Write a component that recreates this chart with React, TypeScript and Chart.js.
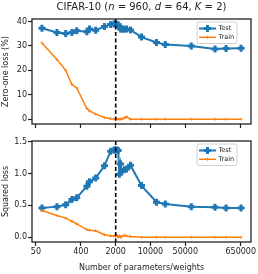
import React, { useEffect, useRef } from "react";
import { Chart, registerables } from "chart.js";

Chart.register(...registerables);

// ---- data ----
const params = [66, 132, 198, 264, 330, 528, 594, 792, 1188, 1584, 1848, 1980, 2112, 2244, 2376, 2508, 2640, 2970, 3300, 3960, 6600, 13200, 19800, 66000, 198000, 330000, 660000];
const zeroOneTest = [37.2, 35.5, 35.1, 35.5, 36.2, 35.8, 36.9, 36.4, 37.9, 38.8, 39.0, 39.0, 38.8, 38.6, 37.9, 36.9, 36.9, 36.8, 36.9, 36.5, 33.6, 31.4, 30.6, 30.0, 28.7, 28.9, 29.0];
const zeroOneTrain = [31.2, 24.4, 20.0, 14.2, 12.8, 4.4, 3.4, 2.1, 0.7, 0.2, 0.05, 0, 0, 0.1, 0, 0.1, 0, 0.5, 1.0, 0, 0, 0, 0, 0, 0, 0, 0];
const squaredTest = [0.46, 0.48, 0.51, 0.59, 0.62, 0.8, 0.87, 0.93, 1.12, 1.35, 1.37, 1.37, 1.37, 1.36, 0.99, 1.15, 1.03, 1.06, 1.07, 1.13, 0.81, 0.55, 0.52, 0.48, 0.47, 0.46, 0.46];
const squaredTrain = [0.42, 0.34, 0.3, 0.25, 0.21, 0.12, 0.11, 0.1, 0.04, 0.02, 0.02, 0.02, 0.03, 0.0, 0.02, 0.0, 0.01, 0.03, 0.02, 0.01, 0.0, 0, 0, 0, 0, 0, 0];
const xTickValues = [50, 400, 2000, 10000, 50000, 650000];
const zeroOneTicks = [0, 10, 20, 30, 40];
const squaredTicks = [0, 0.5, 1.0, 1.5];
const threshold = 2000;
const seriesLabels = ["Test", "Train"];

const BLUE = "#1f77b4";
const ORANGE = "#ff7f0e";
const INK = "#222222";
const FONT = "'DejaVu Sans', sans-serif";
const X_MIN = 66 / Math.pow(10, 0.2);
const X_MAX = 660000 * Math.pow(10, 0.2);

function drawPlus(ctx: CanvasRenderingContext2D, x: number, y: number, r: number, lw: number, color: string) {
  ctx.save();
  ctx.strokeStyle = color;
  ctx.lineWidth = lw;
  ctx.beginPath();
  ctx.moveTo(x - r, y);
  ctx.lineTo(x + r, y);
  ctx.moveTo(x, y - r);
  ctx.lineTo(x, y + r);
  ctx.stroke();
  ctx.restore();
}

const framePlugin = {
  id: "frame",
  afterDatasetsDraw(chart: any) {
    const { ctx, chartArea: a, scales } = chart;
    const xp = scales.x.getPixelForValue(threshold);
    ctx.save();
    ctx.strokeStyle = "#000";
    ctx.lineWidth = 1.6;
    ctx.setLineDash([4, 2.5]);
    ctx.beginPath();
    ctx.moveTo(xp, a.top);
    ctx.lineTo(xp, a.bottom);
    ctx.stroke();
    ctx.restore();
    ctx.save();
    ctx.strokeStyle = INK;
    ctx.lineWidth = 1.3;
    ctx.strokeRect(a.left, a.top, a.right - a.left, a.bottom - a.top);
    ctx.restore();
  },
};

const legendPlugin = {
  id: "insideLegend",
  afterDraw(chart: any) {
    const { ctx, chartArea: a } = chart;
    const w = 40;
    const h = 21.5;
    const left = a.right - 14 - w;
    const top = a.top + 3;
    ctx.save();
    ctx.beginPath();
    if ((ctx as any).roundRect) (ctx as any).roundRect(left, top, w, h, 2);
    else ctx.rect(left, top, w, h);
    ctx.fillStyle = "rgba(255,255,255,0.85)";
    ctx.fill();
    ctx.strokeStyle = "#d0d0d0";
    ctx.lineWidth = 1;
    ctx.stroke();
    const colors = [BLUE, ORANGE];
    const rows = [top + 6.5, top + 15.3];
    ctx.font = `6.5px ${FONT}`;
    ctx.textBaseline = "middle";
    ctx.textAlign = "left";
    seriesLabels.forEach((lab, i) => {
      const y = rows[i];
      ctx.strokeStyle = colors[i];
      ctx.lineWidth = i === 0 ? 2 : 1.5;
      ctx.beginPath();
      ctx.moveTo(left + 2, y);
      ctx.lineTo(left + 19, y);
      ctx.stroke();
      if (i === 0) drawPlus(ctx, left + 10.5, y, 3.5, 3, colors[i]);
      else drawPlus(ctx, left + 10.5, y, 1.5, 0.8, colors[i]);
      ctx.fillStyle = INK;
      ctx.fillText(lab, left + 21.5, y + 0.3);
    });
    ctx.restore();
  },
};

const titlePlugin = {
  id: "mixedTitle",
  afterDraw(chart: any) {
    const { ctx, chartArea: a } = chart;
    const segs: [string, boolean][] = [
      ["CIFAR-10 (", false],
      ["n", true],
      [" = 960, ", false],
      ["d", true],
      [" = 64, ", false],
      ["K", true],
      [" = 2)", false],
    ];
    const size = 10;
    ctx.save();
    ctx.textBaseline = "middle";
    ctx.textAlign = "left";
    ctx.fillStyle = INK;
    let total = 0;
    const widths = segs.map(([t, it]) => {
      ctx.font = `${it ? "italic " : ""}${size}px ${FONT}`;
      const wd = ctx.measureText(t).width;
      total += wd;
      return wd;
    });
    let x = (a.left + a.right) / 2 - total / 2;
    segs.forEach(([t, it], i) => {
      ctx.font = `${it ? "italic " : ""}${size}px ${FONT}`;
      ctx.fillText(t, x, 7);
      x += widths[i];
    });
    ctx.restore();
  },
};

function buildConfig(isTop: boolean): any {
  const test = isTop ? zeroOneTest : squaredTest;
  const train = isTop ? zeroOneTrain : squaredTrain;
  const yTicks = isTop ? zeroOneTicks : squaredTicks;
  return {
    type: "line",
    data: {
      datasets: [
        {
          label: seriesLabels[0],
          data: params.map((p, i) => ({ x: p, y: test[i] })),
          borderColor: BLUE,
          backgroundColor: BLUE,
          borderWidth: 2,
          pointStyle: "cross",
          pointRadius: 3.5,
          pointBorderWidth: 3,
          tension: 0,
          order: 2,
        },
        {
          label: seriesLabels[1],
          data: params.map((p, i) => ({ x: p, y: train[i] })),
          borderColor: ORANGE,
          backgroundColor: ORANGE,
          borderWidth: 1.5,
          pointStyle: "cross",
          pointRadius: 1.5,
          pointBorderWidth: 0.8,
          tension: 0,
          order: 1,
        },
      ],
    },
    options: {
      responsive: false,
      animation: false,
      devicePixelRatio: 1,
      layout: { padding: { left: 0, right: 7, top: isTop ? 19 : 5.5, bottom: isTop ? 0 : 1 } },
      plugins: { legend: { display: false }, tooltip: { enabled: false }, title: { display: false } },
      scales: {
        x: {
          type: "logarithmic",
          min: X_MIN,
          max: X_MAX,
          afterBuildTicks: (s: any) => {
            s.ticks = xTickValues.map((v) => ({ value: v }));
          },
          afterFit: (s: any) => {
            s.height = isTop ? 10 : 31;
          },
          ticks: {
            display: !isTop,
            autoSkip: false,
            maxRotation: 0,
            padding: 1,
            color: INK,
            font: { family: FONT, size: 8 },
            callback: (v: any) => String(v),
          },
          grid: { drawOnChartArea: false, tickLength: 4, tickWidth: 1.2, tickColor: INK },
          border: { display: false },
          title: {
            display: !isTop,
            text: "Number of parameters/weights",
            color: INK,
            font: { family: FONT, size: 8 },
            padding: 0,
          },
        },
        y: {
          min: isTop ? -1.95 : -0.075,
          max: isTop ? 41 : 1.51,
          afterBuildTicks: (s: any) => {
            s.ticks = yTicks.map((v) => ({ value: v }));
          },
          afterFit: (s: any) => {
            s.width = 32;
          },
          ticks: {
            padding: 1,
            color: INK,
            font: { family: FONT, size: 8 },
            callback: (v: any) => (isTop ? String(v) : Number(v).toFixed(1)),
          },
          grid: { drawOnChartArea: false, tickLength: 4, tickWidth: 1.2, tickColor: INK },
          border: { display: false },
          title: {
            display: true,
            text: isTop ? "Zero-one loss (%)" : "Squared loss",
            color: INK,
            font: { family: FONT, size: 8 },
            padding: { top: 1, bottom: 0 },
          },
        },
      },
    },
    plugins: isTop ? [framePlugin, legendPlugin, titlePlugin] : [framePlugin, legendPlugin],
  };
}

export default function App() {
  const topRef = useRef<HTMLCanvasElement>(null);
  const botRef = useRef<HTMLCanvasElement>(null);
  useEffect(() => {
    const c1 = new Chart(topRef.current as HTMLCanvasElement, buildConfig(true));
    const c2 = new Chart(botRef.current as HTMLCanvasElement, buildConfig(false));
    return () => {
      c1.destroy();
      c2.destroy();
    };
  }, []);
  return (
    <div style={{ position: "absolute", left: 0, top: 0, width: 258, height: 274, background: "#fff" }}>
      <canvas ref={topRef} width={258} height={134} style={{ position: "absolute", left: 0, top: 0, width: 258, height: 134 }} />
      <canvas ref={botRef} width={258} height={140} style={{ position: "absolute", left: 0, top: 134, width: 258, height: 140 }} />
    </div>
  );
}
